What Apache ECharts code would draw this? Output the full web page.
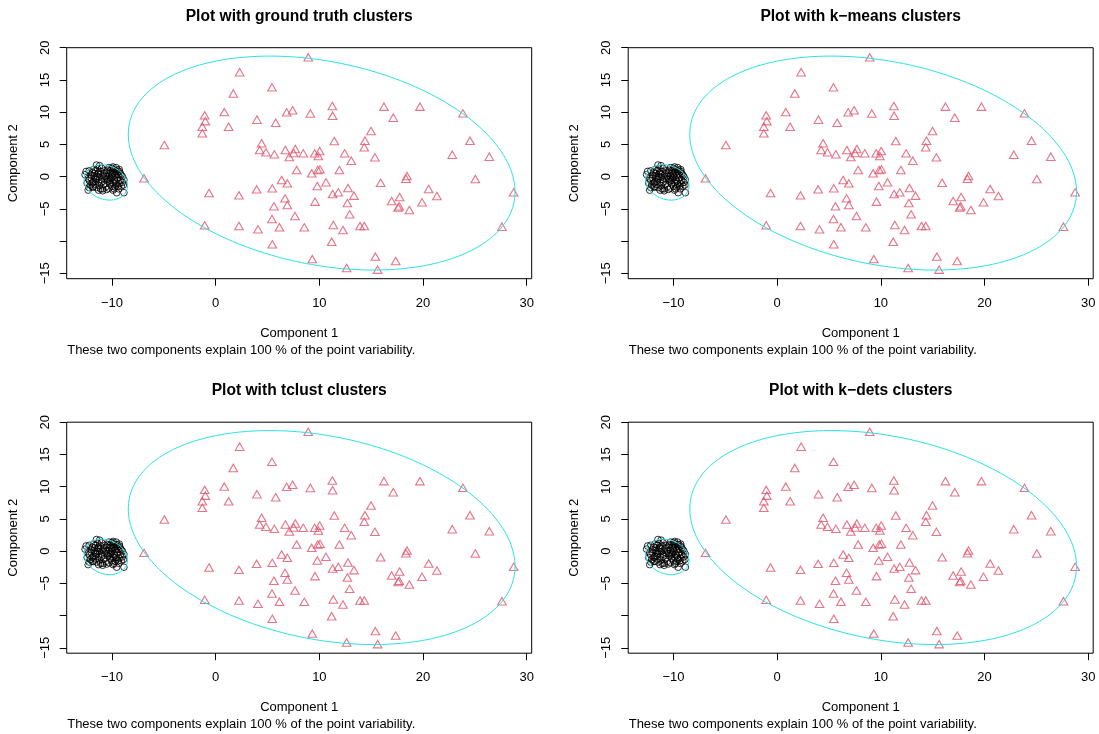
<!DOCTYPE html>
<html><head><meta charset="utf-8">
<script src="https://cdn.jsdelivr.net/npm/echarts@6/dist/echarts.min.js"></script>
<style>html,body{margin:0;padding:0;background:#fff}#c{width:1099px;height:734px}</style>
</head><body><div id="c"></div>
<script>
// ---- data ----
const panelTitles = ['Plot with ground truth clusters', 'Plot with k\u2212means clusters', 'Plot with tclust clusters', 'Plot with k\u2212dets clusters'];
const xAxisTitle = 'Component 1';
const yAxisTitle = 'Component 2';
const subTitle = 'These two components explain 100 % of the point variability.';
const xTicks = [-10, 0, 10, 20, 30];
const yTicks = [-15, -10, -5, 0, 5, 10, 15, 20];
const xRange = [-14.37, 30.48];
const yRange = [-15.84, 20.0];

// cluster 1 (circles)
const circlePoints = [
  [-11.5,1.8],[-11.2,1.7],[-11.0,1.3],[-10.3,1.4],[-9.9,1.5],[-9.6,1.4],[-9.3,1.1],
  [-12.6,0.3],[-12.5,0.8],[-12.3,-0.3],[-12.4,-1.0],[-12.2,0.9],
  [-12.3,-2.1],[-11.8,-1.6],[-11.3,-2.1],[-10.9,-1.9],[-10.5,-2.0],[-9.9,-2.1],[-9.55,-2.5],[-9.35,-1.9],[-8.85,-2.5],
  [-8.85,-0.5],[-8.9,-1.3],[-9.2,0.5],[-9.0,0.0],
  [-11.9,0.6],[-11.6,0.9],[-11.3,0.4],[-11.7,0.1],[-12.0,-0.2],[-11.5,-0.5],[-11.2,-0.1],[-11.8,-0.8],[-12.1,-1.3],[-11.6,-1.2],
  [-11.3,-0.9],[-11.0,-0.5],[-10.9,0.2],[-11.1,0.8],[-11.4,1.2],[-11.8,1.1],[-12.0,0.2],[-11.9,-1.6],[-11.5,-1.7],[-11.2,-1.4],
  [-10.8,-1.2],[-10.7,-0.3],[-10.8,0.5],[-11.6,-0.1],[-12.2,-0.6],[-11.4,0.0],[-11.1,-1.9],[-10.6,-1.6],
  [-10.2,0.9],[-9.9,1.1],[-9.6,0.8],[-9.4,0.3],[-9.7,0.2],[-10.0,0.4],[-10.3,0.1],[-10.1,-0.3],[-9.8,-0.5],[-9.5,-0.2],
  [-9.2,-0.6],[-9.3,-1.1],[-9.6,-1.0],[-9.9,-0.9],[-10.2,-1.1],[-10.4,-0.7],[-10.0,-1.5],[-9.7,-1.6],[-9.4,-1.5],[-9.1,-1.5],
  [-10.3,-1.8],[-10.5,0.6],[-10.4,1.0],[-9.5,1.0],[-9.1,0.2],[-9.0,-0.9],[-10.6,0.0],[-10.5,-0.4],[-9.8,0.6],[-10.0,-0.1],
  [-9.6,-1.3],[-10.2,-0.6],[-11.7,0.5],[-12.2,-1.7],[-11.0,-0.8],[-9.3,0.8],[-10.7,0.9],[-10.9,-2.2],[-9.8,-1.9],[-11.3,0.6],
  [-9.5,0.5],[-10.1,0.6],[-11.6,-0.4],[-10.3,-0.4],[-9.7,-0.7],[-11.9,-1.0],[-10.0,1.3]
];

// cluster 2 (triangles)
const trianglePoints = [
  [8.93,18.5],[2.31,16.2],[5.43,13.85],[1.70,12.9],[11.25,10.95],[7.42,10.3],[6.85,9.97],[9.13,9.8],[11.28,9.45],[-1.06,9.5],
  [0.83,10.0],[-1.0,8.6],[3.98,8.83],[5.79,8.36],[1.25,7.74],[-1.29,7.74],[-1.29,6.72],[-4.95,4.9],[11.44,5.52],[4.43,5.17],
  [4.24,4.13],[4.85,3.77],[5.66,3.46],[6.72,4.13],[7.68,4.28],[7.10,3.04],[7.52,3.66],[8.45,3.61],[9.55,3.61],[10.03,3.97],
  [9.9,3.19],[7.81,1.02],[9.26,0.5],[9.84,1.02],[10.06,1.13],[11.93,1.02],[6.36,-0.53],[6.91,-1.04],[9.8,-1.46],[10.64,-0.89],
  [6.69,-3.37],[6.91,-4.41],[9.58,-3.89],[11.28,-2.7],[11.83,-2.44],[7.65,-6.11],[6.15,-7.85],[8.55,-7.87],[11.35,-7.5],[11.19,-10.1],
  [9.32,-12.8],[-0.64,-2.55],[2.25,-2.91],[3.95,-1.98],[5.46,-1.82],[5.62,-4.6],[5.43,-6.58],[-1.06,-7.56],[2.25,-7.66],[4.08,-8.18],
  [5.46,-10.5],[-6.91,-0.27],[16.23,10.85],[19.7,10.85],[17.13,9.14],[23.85,9.82],[14.98,7.07],[14.4,5.57],[14.33,4.55],[12.44,3.61],
  [13.08,2.47],[15.36,2.99],[24.53,5.57],[22.82,3.4],[26.39,3.09],[18.45,0.09],[18.35,-0.33],[15.91,-0.95],[25.04,-0.37],[12.76,-1.77],
  [13.34,-2.96],[20.54,-1.92],[21.34,-3.01],[28.74,-2.44],[12.7,-4.1],[16.97,-3.79],[17.74,-3.17],[17.7,-4.6],[17.6,-4.8],[18.68,-5.18],
  [19.9,-3.99],[12.92,-5.85],[13.92,-7.66],[14.33,-7.66],[12.28,-8.28],[27.61,-7.77],[15.4,-12.42],[17.36,-13.1],[12.63,-14.18],[15.62,-14.44]
];

// cluster ellipses: centre, x = cx + X[0]cos t + X[1]sin t, y = cy + Y[0]cos t + Y[1]sin t
const bigEllipseCenter = [10.22, 2.1];
const bigEllipseX = [18.65, 0];
const bigEllipseY = [-4.45, 15.99];
const smallEllipseCenter = [-10.6, -0.9];
const smallEllipseX = [2.1, 0];
const smallEllipseY = [-0.5, 2.7];

// ---- layout ----
const panelLefts = [66.7, 628.2];
const panelTops = [47.7, 422.2];
const panelW = 465, panelH = 231;
const FONT = '"Liberation Sans", Arial, Helvetica, sans-serif';

function ellipseOutline(c, X, Y) {
  const pts = [];
  for (let k = 0; k <= 240; k++) {
    const t = 2 * Math.PI * k / 240;
    pts.push([c[0] + X[0] * Math.cos(t) + X[1] * Math.sin(t), c[1] + Y[0] * Math.cos(t) + Y[1] * Math.sin(t)]);
  }
  return pts;
}
const minus = v => String(v).replace('-', '\u2212');

const grids = [], xAxes = [], yAxes = [], series = [], graphics = [];
for (let i = 0; i < 4; i++) {
  const left = panelLefts[i % 2], top = panelTops[Math.floor(i / 2)];
  grids.push({left: left, top: top, width: panelW, height: panelH, show: true, borderColor: '#000', borderWidth: 1, backgroundColor: 'transparent'});
  xAxes.push({
    type: 'value', gridIndex: i, min: xRange[0], max: xRange[1], position: 'bottom',
    axisLine: {show: false, onZero: false}, splitLine: {show: false},
    axisTick: {show: true, length: 7, customValues: xTicks, lineStyle: {color: '#000', width: 1}},
    axisLabel: {customValues: xTicks, margin: 18, fontSize: 13, color: '#000', fontFamily: FONT, formatter: minus}
  });
  yAxes.push({
    type: 'value', gridIndex: i, min: yRange[0], max: yRange[1], position: 'left',
    axisLine: {show: false, onZero: false}, splitLine: {show: false},
    axisTick: {show: true, length: 7, customValues: yTicks, lineStyle: {color: '#000', width: 1}},
    axisLabel: {customValues: yTicks, rotate: 90, margin: 15, fontSize: 13, color: '#000', fontFamily: FONT,
      formatter: v => (v === -10 ? '' : minus(v))}
  });
  series.push({
    type: 'scatter', xAxisIndex: i, yAxisIndex: i, data: circlePoints, symbol: 'circle', symbolSize: 6.6,
    itemStyle: {color: 'rgba(0,0,0,0)', borderColor: '#000', borderWidth: 1}, silent: true, z: 2
  });
  series.push({
    type: 'scatter', xAxisIndex: i, yAxisIndex: i, data: trianglePoints, symbol: 'triangle', symbolSize: [8.6, 7.4],
    itemStyle: {color: 'rgba(0,0,0,0)', borderColor: '#DF536B', borderWidth: 1.1}, silent: true, z: 2
  });
  series.push({
    type: 'line', xAxisIndex: i, yAxisIndex: i, data: ellipseOutline(bigEllipseCenter, bigEllipseX, bigEllipseY),
    showSymbol: false, symbol: 'none', lineStyle: {color: '#28E2E5', width: 1}, silent: true, z: 3, animation: false
  });
  series.push({
    type: 'line', xAxisIndex: i, yAxisIndex: i, data: ellipseOutline(smallEllipseCenter, smallEllipseX, smallEllipseY),
    showSymbol: false, symbol: 'none', lineStyle: {color: '#28E2E5', width: 1}, silent: true, z: 3, animation: false
  });
  const cx = left + panelW / 2;
  graphics.push({type: 'text', x: cx, y: top - 31.5, style: {text: panelTitles[i], font: 'bold 15.6px ' + FONT, fill: '#000', textAlign: 'center', textVerticalAlign: 'middle'}});
  graphics.push({type: 'text', x: cx, y: top + 285.5, style: {text: xAxisTitle, font: '13px ' + FONT, fill: '#000', textAlign: 'center', textVerticalAlign: 'middle'}});
  graphics.push({type: 'text', x: left + 0.5, y: top + 302.5, style: {text: subTitle, font: '13px ' + FONT, fill: '#000', textAlign: 'left', textVerticalAlign: 'middle'}});
  graphics.push({type: 'text', x: left - 53.5, y: top + panelH / 2, rotation: Math.PI / 2,
    style: {text: yAxisTitle, font: '13px ' + FONT, fill: '#000', textAlign: 'center', textVerticalAlign: 'middle'}});
}

const chart = echarts.init(document.getElementById('c'), null, {renderer: 'canvas'});
chart.setOption({
  animation: false,
  backgroundColor: '#fff',
  grid: grids, xAxis: xAxes, yAxis: yAxes, series: series, graphic: graphics
});
</script></body></html>
